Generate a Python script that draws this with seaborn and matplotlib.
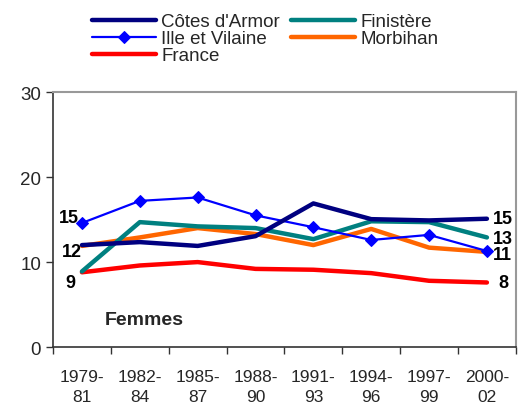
import matplotlib
matplotlib.use("Agg")
import matplotlib.pyplot as plt
import seaborn as sns
import pandas as pd
import numpy as np

categories = ["1979-\n81", "1982-\n84", "1985-\n87", "1988-\n90", "1991-\n93", "1994-\n96", "1997-\n99", "2000-\n02"]
cotes_armor = [12.0, 12.35, 11.9, 13.05, 16.9, 15.05, 14.9, 15.1]
ille_vilaine = [14.6, 17.2, 17.6, 15.5, 14.1, 12.6, 13.2, 11.3]
finistere = [8.9, 14.7, 14.2, 14.0, 12.7, 14.8, 14.7, 12.9]
morbihan = [11.9, 12.9, 14.0, 13.3, 12.0, 13.9, 11.7, 11.2]
france = [8.8, 9.6, 10.0, 9.2, 9.1, 8.7, 7.8, 7.6]

series = {
    "Côtes d'Armor": cotes_armor,
    "Finistère": finistere,
    "Ille et Vilaine": ille_vilaine,
    "Morbihan": morbihan,
    "France": france,
}
colors = {
    "Côtes d'Armor": "#000080",
    "Finistère": "#008080",
    "Ille et Vilaine": "#0000FF",
    "Morbihan": "#FF6600",
    "France": "#FF0000",
}
widths = {"Côtes d'Armor": 3.2, "Finistère": 3.2, "Ille et Vilaine": 1.6, "Morbihan": 3.2, "France": 3.2}

rows = []
for name, vals in series.items():
    for i, v in enumerate(vals):
        rows.append({"serie": name, "x": i, "value": v})
df = pd.DataFrame(rows)

sns.set_style("white")
plt.rcParams['font.family'] = ['Liberation Sans', 'DejaVu Sans']

fig = plt.figure(figsize=(5.2, 4.1), dpi=100)
ax = fig.add_axes([0.102, 0.151, 0.89, 0.622])

draw_order = ["France", "Morbihan", "Finistère", "Ille et Vilaine", "Côtes d'Armor"]
handles = {}
for name in draw_order:
    sub = df[df.serie == name]
    kw = {}
    if name == "Ille et Vilaine":
        kw = dict(marker="D", markersize=6, markeredgecolor=colors[name])
    sns.lineplot(data=sub, x="x", y="value", ax=ax, color=colors[name],
                 linewidth=widths[name], label=name, legend=False, **kw)
    handles[name] = ax.lines[-1]

ax.set_xlim(-0.5, len(categories) - 0.5)
ax.set_ylim(0, 30)
ax.set_yticks([0, 10, 20, 30])
ax.set_xticks(range(len(categories)))
ax.set_xticklabels(categories, fontsize=12.5, linespacing=1.4)
ax.set_xticks(np.arange(-0.5, len(categories), 1.0), minor=True)
ax.tick_params(axis="x", which="major", length=0, pad=16)
ax.tick_params(axis="x", which="minor", length=5, width=1, color="#333333", direction="out", bottom=True)
ax.tick_params(axis="y", length=5, width=1, color="#333333", direction="out", left=True, labelsize=13.5)
ax.set_xlabel("")
ax.set_ylabel("")

for side in ["left", "bottom"]:
    ax.spines[side].set_color("#333333")
    ax.spines[side].set_linewidth(1.2)
for side in ["top", "right"]:
    ax.spines[side].set_color("#999999")
    ax.spines[side].set_linewidth(1.5)

# value labels
lab_kw = dict(fontsize=13, fontweight="bold", color="black")
ax.text(-0.05, ille_vilaine[0] + 0.6, "15", ha="right", va="center", **lab_kw)
ax.text(0.0, cotes_armor[0] - 0.7, "12", ha="right", va="center", **lab_kw)
ax.text(-0.12, france[0] - 1.2, "9", ha="right", va="center", **lab_kw)
n = len(categories) - 1
ax.text(n + 0.1, cotes_armor[-1], "15", ha="left", va="center", **lab_kw)
ax.text(n + 0.1, finistere[-1] - 0.1, "13", ha="left", va="center", **lab_kw)
ax.text(n + 0.1, ille_vilaine[-1] - 0.4, "11", ha="left", va="center", **lab_kw)
ax.text(n + 0.2, france[-1], "8", ha="left", va="center", **lab_kw)

ax.text(0.4, 3.2, "Femmes", fontsize=14, fontweight="bold", ha="left", va="center")

leg_order = ["Côtes d'Armor", "Ille et Vilaine", "France", "Finistère", "Morbihan"]
fig.legend([handles[k] for k in leg_order], leg_order, loc="upper left",
           bbox_to_anchor=(0.15, 1.0), ncol=2, frameon=False, fontsize=13.5,
           handlelength=3.4, handletextpad=0.3, labelspacing=0.0, columnspacing=0.6,
           borderpad=0.25)

fig.savefig("out.png", dpi=100)
